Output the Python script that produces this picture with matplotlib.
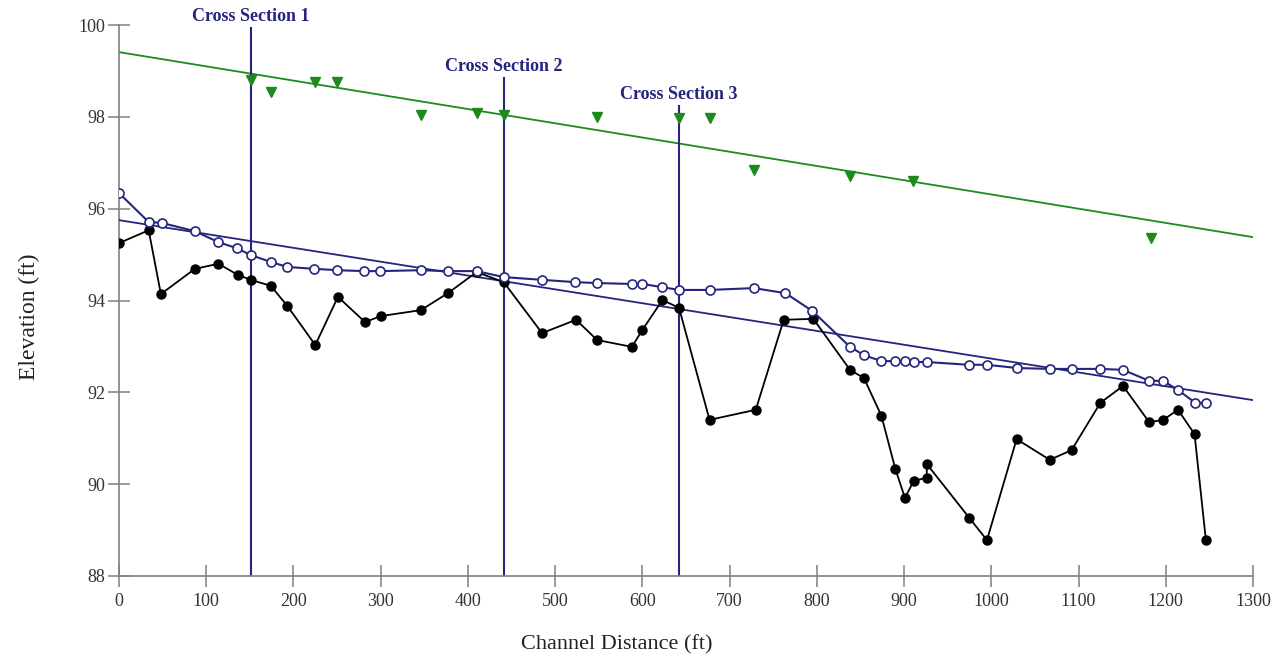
import matplotlib.pyplot as plt

# channel bed profile (thalweg)
bed_x = [0, 34, 48, 87, 114, 136, 151, 174, 193, 225, 251, 282, 300, 346, 377,
         410, 441, 485, 524, 548, 588, 600, 623, 642, 677, 730, 762, 796, 838,
         854, 874, 890, 901, 911, 926, 926, 975, 995, 1029, 1067, 1092, 1125,
         1151, 1181, 1197, 1214, 1233, 1246]
bed_y = [95.25, 95.53, 94.14, 94.69, 94.80, 94.56, 94.45, 94.32, 93.88, 93.03,
         94.08, 93.53, 93.66, 93.79, 94.16, 94.62, 94.40, 93.29, 93.58, 93.14,
         92.99, 93.36, 94.01, 93.84, 91.40, 91.62, 93.58, 93.60, 92.49, 92.31,
         91.49, 90.33, 89.70, 90.07, 90.14, 90.44, 89.26, 88.78, 90.98, 90.53,
         90.74, 91.77, 92.14, 91.35, 91.40, 91.62, 91.09, 88.78]

# water surface profile
ws_x = [0, 34, 49, 87, 114, 135, 151, 174, 193, 224, 250, 281, 299, 346, 377,
        410, 441, 485, 523, 548, 588, 600, 623, 642, 677, 728, 764, 795, 838,
        854, 874, 890, 901, 911, 926, 974, 995, 1029, 1067, 1092, 1125, 1151,
        1181, 1197, 1214, 1234, 1246]
ws_y = [96.34, 95.71, 95.69, 95.51, 95.27, 95.14, 94.99, 94.84, 94.73, 94.69,
        94.66, 94.64, 94.64, 94.66, 94.64, 94.64, 94.51, 94.45, 94.40, 94.38,
        94.36, 94.36, 94.29, 94.23, 94.23, 94.27, 94.16, 93.77, 92.99, 92.81,
        92.68, 92.68, 92.68, 92.66, 92.66, 92.60, 92.60, 92.53, 92.51, 92.51,
        92.51, 92.49, 92.25, 92.25, 92.05, 91.77, 91.77]

# bank / high water marks
mark_x = [151, 174, 225, 250, 346, 410, 441, 548, 642, 677, 728, 838, 910, 1183]
mark_y = [98.80, 98.54, 98.76, 98.76, 98.04, 98.08, 98.04, 98.00, 97.97, 97.97,
          96.84, 96.71, 96.60, 95.36]

# fitted trend lines (end points)
trend_x = [0, 1300]
ws_trend_y = [95.75, 91.83]
mark_trend_y = [99.41, 95.38]

# cross section locations
xs_names = ["Cross Section 1", "Cross Section 2", "Cross Section 3"]
xs_x = [151, 441, 642]
xs_top = [99.96, 98.87, 98.26]

navy = "#25257f"
green = "#1c8a1c"
gray = "#808080"

plt.rcParams["font.family"] = ["Liberation Serif", "DejaVu Serif"]

fig = plt.figure(figsize=(12.77, 6.59), dpi=100)
ax = fig.add_axes([0.0932, 0.126, 0.8880, 0.836])

ax.plot(trend_x, mark_trend_y, color=green, lw=1.3, zorder=2)
ax.plot(mark_x, mark_y, linestyle="none", marker="v", ms=7.5,
        color=green, zorder=3)

ax.vlines(xs_x, 88, xs_top, color=navy, lw=1.5, zorder=2)
for name, x, top in zip(xs_names, xs_x, xs_top):
    ax.text(x, top + 0.05, name, ha="center", va="bottom", color=navy,
            fontsize=13, fontweight="bold", clip_on=False)

ax.plot(trend_x, ws_trend_y, color=navy, lw=1.3, zorder=3)
ax.plot(bed_x, bed_y, color="black", lw=1.3, marker="o", ms=6.5,
        markerfacecolor="black", zorder=4)
ax.plot(ws_x, ws_y, color=navy, lw=1.5, marker="o", ms=6.5,
        markerfacecolor="white", markeredgewidth=1.2, zorder=5)

ax.set_xlim(0, 1300)
ax.set_ylim(88, 100)
ax.set_xticks(range(0, 1301, 100))
ax.set_yticks(range(88, 101, 2))

for side in ["top", "right"]:
    ax.spines[side].set_visible(False)
for side in ["left", "bottom"]:
    ax.spines[side].set_color(gray)
    ax.spines[side].set_linewidth(1.2)

ax.tick_params(direction="inout", length=16, width=1.1, color=gray,
               labelsize=13, labelcolor="#333333")
ax.tick_params(axis="x", pad=4)
ax.tick_params(axis="y", pad=2)

ax.set_xlabel("Channel Distance (ft)", fontsize=16, color="#222222")
ax.set_ylabel("Elevation (ft)", fontsize=17, color="#222222")
ax.xaxis.set_label_coords(0.439, -0.108)
ax.yaxis.set_label_coords(-0.070, 0.47)

fig.savefig("out.png", dpi=100, facecolor="white")
